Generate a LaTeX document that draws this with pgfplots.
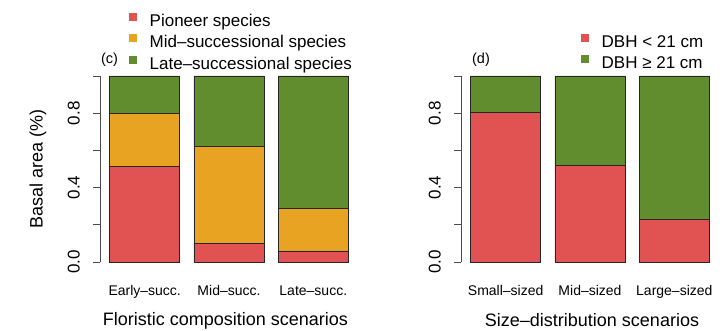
\documentclass[border=0pt]{standalone}
\usepackage{pgfplots}
\pgfplotsset{compat=1.18}
\usepackage{fontspec}
\setmainfont{Liberation Sans}
\definecolor{cred}{HTML}{E15252}
\definecolor{corange}{HTML}{E8A323}
\definecolor{cgreen}{HTML}{628D2E}
\pgfplotsset{
 panel/.style={
  scale only axis, width=258pt, height=200.9pt,
  anchor=south west,
  xmin=0.064, xmax=3.736, ymin=-0.04, ymax=1.04,
  axis lines*=left, axis line style={draw=none},
  ybar stacked, bar width=1,
  xtick={0.7,1.9,3.1}, xtick style={draw=none},
  ytick={0,0.2,0.4,0.6,0.8,1}, yticklabels={0.0,,0.4,,0.8,},
  ytick style={draw=black!70, line width=0.8pt},
  tick align=outside, major tick length=7pt,
  /pgf/number format/assume math mode=true,
  yticklabel style={xshift=-13pt, rotate=90, anchor=south, inner sep=0pt, font=\fontsize{17}{20}\selectfont},
  xticklabel style={font=\fontsize{14}{16}\selectfont, inner sep=0pt, anchor=north, yshift=-9pt},
  clip=false,
  legend style={anchor=north west, draw=none, fill=none, inner sep=0pt, outer sep=0pt,
    font=\fontsize{17}{20}\selectfont, row sep=4pt, cells={anchor=west},
    nodes={inner sep=0pt, text height=12.5pt, text depth=4pt},
    /tikz/every odd column/.append style={column sep=12.5pt}},
 },
 sq/.style={draw=black!85, line width=0.7pt, fill=#1,
   legend image code/.code={\fill[#1] (0pt,2pt) rectangle (7pt,9pt);}},
}
\begin{document}
\begin{tikzpicture}
\path[use as bounding box] (0,0) rectangle (722pt,330pt);
\begin{axis}[panel, at={(100pt,60.55pt)}, xticklabels={Early–succ.,Mid–succ.,Late–succ.},
  legend style={at={(0.1143,1.2777)}}]
\addplot[sq=cred] coordinates {(0.7,0.515) (1.9,0.10) (3.1,0.06)};
\addplot[sq=corange] coordinates {(0.7,0.285) (1.9,0.52) (3.1,0.23)};
\addplot[sq=cgreen] coordinates {(0.7,0.20) (1.9,0.38) (3.1,0.71)};
\legend{Pioneer species,Mid–successional species,Late–successional species}
\draw[black!70, line width=0.8pt] (axis cs:0.064,0) -- (axis cs:0.064,1);
\end{axis}
\begin{axis}[panel, at={(461pt,60.55pt)}, xticklabels={Small–sized,Mid–sized,Large–sized},
  legend style={at={(0.467,1.1732)}}]
\addplot[sq=cred] coordinates {(0.7,0.805) (1.9,0.518) (3.1,0.232)};
\addplot[sq=cgreen] coordinates {(0.7,0.195) (1.9,0.482) (3.1,0.768)};
\legend{DBH < 21 cm,DBH ≥ 21 cm}
\draw[black!70, line width=0.8pt] (axis cs:0.064,0) -- (axis cs:0.064,1);
\end{axis}
\node[font=\fontsize{18}{20}\selectfont] at (225.5pt,9.5pt) {Floristic composition scenarios};
\node[font=\fontsize{18}{20}\selectfont] at (592pt,9.5pt) {Size–distribution scenarios};
\node[rotate=90, font=\fontsize{18}{20}\selectfont] at (38pt,161.5pt) {Basal area (\%)};
\node[font=\fontsize{14.5}{16}\selectfont] at (109.5pt,270pt) {(c)};
\node[font=\fontsize{14.5}{16}\selectfont] at (481pt,270pt) {(d)};
\end{tikzpicture}
\end{document}
